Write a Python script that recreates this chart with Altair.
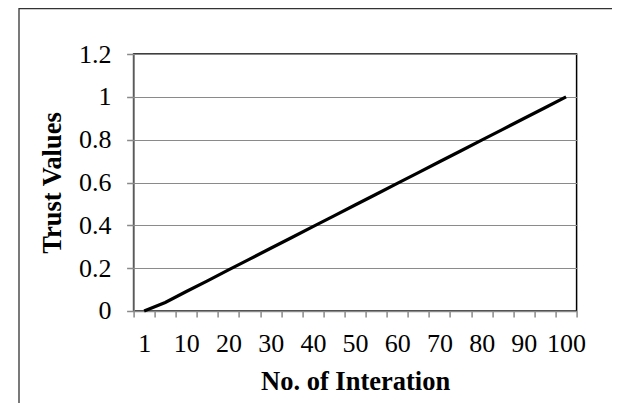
import altair as alt
import pandas as pd

# Data
iterations = ["1", "5", "10", "15", "20", "25", "30", "35", "40", "45", "50",
              "55", "60", "65", "70", "75", "80", "85", "90", "95", "100"]
trust = [0.0, 0.040, 0.091, 0.141, 0.192, 0.242, 0.293, 0.343, 0.394, 0.444, 0.495,
         0.545, 0.596, 0.646, 0.697, 0.747, 0.798, 0.848, 0.899, 0.949, 1.0]
y_ticks = [0, 0.2, 0.4, 0.6, 0.8, 1.0, 1.2]

df = pd.DataFrame({"idx": list(range(len(iterations))), "label": iterations, "trust": trust})

n = len(iterations)
label_positions = list(range(0, n, 2))
boundaries = [i - 0.5 for i in range(n + 1)]
label_array = "[" + ",".join("'%s'" % s for s in iterations) + "]"

FONT = "Liberation Serif"
GRAY = "#8a8a8a"

W, H = 443, 257

x_scale = alt.Scale(domain=[-0.5, n - 0.5], nice=False, zero=False)
y_scale = alt.Scale(domain=[0, 1.2], nice=False)

line = alt.Chart(df).mark_line(color="black", strokeWidth=3.2).encode(
    x=alt.X("idx:Q", scale=x_scale,
            axis=alt.Axis(orient="bottom", values=label_positions, ticks=False, tickSize=0,
                          labelExpr=label_array + "[datum.value]",
                          labelFont=FONT, labelFontSize=26, labelColor="black",
                          labelBaseline="alphabetic", labelPadding=41,
                          labelFlush=False, labelOverlap=False, grid=False,
                          domain=False,
                          title="No. of Interation", titleFont=FONT, titleFontSize=26.5,
                          titleFontWeight="bold", titleColor="black",
                          titleX=W / 2, titleY=79, titleBaseline="alphabetic",
                          titleAlign="center")),
    y=alt.Y("trust:Q", scale=y_scale,
            axis=alt.Axis(values=y_ticks, format="~g", grid=True, gridColor=GRAY,
                          gridWidth=1, domainColor=GRAY, domainWidth=1.5,
                          tickColor=GRAY, tickSize=7, tickWidth=1.5,
                          labelFont=FONT, labelFontSize=26, labelColor="black",
                          labelPadding=15.6, labelBaseline="middle",
                          title="Trust Values", titleFont=FONT, titleFontSize=26.5,
                          titleFontWeight="bold", titleColor="black",
                          titleX=-81, titleY=H / 2, titleBaseline="middle",
                          titleAlign="center", titleAngle=270)),
)

tick_df = pd.DataFrame({"b": boundaries})
ticks_layer = alt.Chart(tick_df).mark_point(opacity=0).encode(
    x=alt.X("b:Q", scale=x_scale,
            axis=alt.Axis(orient="bottom", values=boundaries, labels=False, grid=False,
                          domainColor=GRAY, domainWidth=1.5, tickColor=GRAY,
                          tickSize=6, tickWidth=1.5, title=None)),
)

frame = alt.Chart(alt.Data(values=[{}])).mark_rect(
    filled=False, stroke="#333333", strokeWidth=1.3, clip=False
).encode(
    x=alt.value(-114.6), x2=alt.value(520), y=alt.value(-45.3), y2=alt.value(400)
)

chart = alt.layer(ticks_layer, line, frame).resolve_axis(x="independent").properties(
    width=W, height=H,
    autosize="none",
    padding={"left": 125.6, "top": 46, "right": 35, "bottom": 92},
    background="white",
).configure_view(stroke="black", strokeWidth=1.5)

chart.save("out.html", embed_options={"renderer": "svg", "actions": False})
